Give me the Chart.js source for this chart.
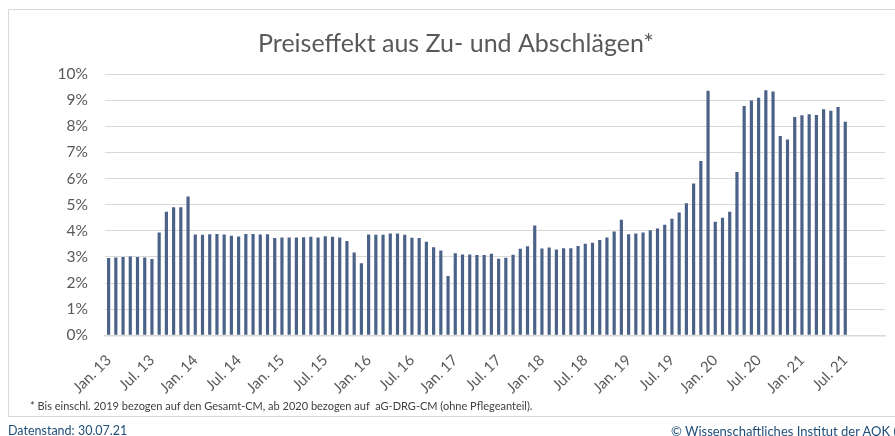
<!DOCTYPE html>
<html lang="de">
<head>
    <meta charset="UTF-8">
    <title>Preiseffekt aus Zu- und Abschlägen</title>
    <script src="https://cdn.jsdelivr.net/npm/chart.js"></script>
    <style>
        html, body {
            margin: 0;
            padding: 0;
            width: 895px;
            height: 436px;
            overflow: hidden;
            background: #ffffff;
            font-family: Lato, "Open Sans", sans-serif;
        }
        #frame {
            position: absolute;
            left: 8px;
            top: 9px;
            width: 900px;
            height: 406px;
            border: 1px solid #D9D9D9;
        }
        #chart {
            position: absolute;
            left: 0;
            top: 0;
        }
        .note {
            position: absolute;
            white-space: nowrap;
        }
        #footnote {
            left: 30px;
            top: 399px;
            font-size: 11px;
            color: #404040;
        }
        #stand {
            left: 8px;
            top: 423px;
            font-size: 12.5px;
            color: #1F4E79;
        }
        #copy {
            left: 671px;
            top: 423px;
            font-size: 13px;
            color: #1F4E79;
        }
    </style>
</head>
<body>
    <div id="frame"></div>
    <canvas id="chart" width="895" height="436"></canvas>
    <div class="note" id="footnote">* Bis einschl. 2019 bezogen auf den Gesamt-CM, ab 2020 bezogen auf &nbsp;aG-DRG-CM (ohne Pflegeanteil).</div>
    <div class="note" id="stand">Datenstand: 30.07.21</div>
    <div class="note" id="copy">© Wissenschaftliches Institut der AOK (WIdO)</div>

    <script>
        // Monate Jan. 13 bis Dez. 21 (Achse), Werte bis Jul. 21
        const years = ['13', '14', '15', '16', '17', '18', '19', '20', '21'];
        const monthNames = ['Jan.', 'Feb.', 'Mrz.', 'Apr.', 'Mai', 'Jun.', 'Jul.', 'Aug.', 'Sep.', 'Okt.', 'Nov.', 'Dez.'];
        const shownTicks = ['Jan. 13', 'Jul. 13', 'Jan. 14', 'Jul. 14', 'Jan. 15', 'Jul. 15', 'Jan. 16', 'Jul. 16',
            'Jan. 17', 'Jul. 17', 'Jan. 18', 'Jul. 18', 'Jan. 19', 'Jul. 19', 'Jan. 20', 'Jul. 20', 'Jan. 21', 'Jul. 21'];

        // Preiseffekt in %
        const values2013 = [2.96, 2.98, 3.00, 3.02, 3.00, 2.98, 2.92, 3.93, 4.73, 4.90, 4.90, 5.31];
        const values2014 = [3.86, 3.85, 3.87, 3.88, 3.86, 3.81, 3.78, 3.88, 3.88, 3.86, 3.87, 3.72];
        const values2015 = [3.74, 3.74, 3.74, 3.75, 3.77, 3.74, 3.79, 3.77, 3.74, 3.61, 3.17, 2.76];
        const values2016 = [3.86, 3.85, 3.85, 3.90, 3.90, 3.85, 3.73, 3.72, 3.58, 3.37, 3.25, 2.27];
        const values2017 = [3.14, 3.09, 3.09, 3.07, 3.07, 3.12, 2.93, 2.97, 3.08, 3.31, 3.41, 4.20];
        const values2018 = [3.32, 3.36, 3.28, 3.33, 3.33, 3.42, 3.50, 3.54, 3.65, 3.74, 3.97, 4.42];
        const values2019 = [3.87, 3.90, 3.93, 4.02, 4.09, 4.23, 4.46, 4.70, 5.05, 5.81, 6.67, 9.36];
        const values2020 = [4.35, 4.50, 4.73, 6.25, 8.78, 8.99, 9.09, 9.38, 9.33, 7.63, 7.49, 8.35];
        const values2021 = [8.42, 8.46, 8.43, 8.65, 8.59, 8.74, 8.17];

        const yTicks = [0, 1, 2, 3, 4, 5, 6, 7, 8, 9, 10];

        const categories = [];
        years.forEach(y => monthNames.forEach(m => categories.push(m + ' ' + y)));

        const values = [].concat(values2013, values2014, values2015, values2016, values2017,
            values2018, values2019, values2020, values2021);

        const textColor = '#595959';
        const gridColor = '#D9D9D9';

        const ctx = document.getElementById('chart').getContext('2d');
        new Chart(ctx, {
            type: 'bar',
            data: {
                labels: categories,
                datasets: [{
                    label: 'Preiseffekt',
                    data: values,
                    backgroundColor: '#4B6288',
                    barPercentage: 0.44,
                    categoryPercentage: 1.0
                }]
            },
            options: {
                responsive: false,
                animation: false,
                layout: {
                    padding: { left: 27, right: 10, top: 0, bottom: 0 }
                },
                plugins: {
                    legend: { display: false },
                    tooltip: { enabled: false },
                    title: {
                        display: true,
                        text: 'Preiseffekt aus Zu- und Abschlägen*',
                        color: textColor,
                        font: { family: 'Lato', size: 25, weight: 'normal' },
                        padding: { top: 29, bottom: 15 }
                    }
                },
                scales: {
                    x: {
                        grid: { display: false },
                        border: { display: true, color: gridColor, width: 1.5 },
                        ticks: {
                            autoSkip: false,
                            maxRotation: 45,
                            minRotation: 45,
                            padding: 8,
                            color: textColor,
                            font: { family: 'Lato', size: 15 },
                            callback: function (value) {
                                const lbl = categories[value];
                                return shownTicks.includes(lbl) ? lbl : '';
                            }
                        },
                        afterFit: function (scale) {
                            scale.height = 100.7;
                            // rotated labels must not shrink the plot area
                            scale.paddingLeft = 0;
                            scale.paddingRight = 0;
                        }
                    },
                    y: {
                        min: yTicks[0],
                        max: yTicks[yTicks.length - 1],
                        border: { display: false },
                        grid: { color: gridColor, lineWidth: 1, drawTicks: false },
                        afterBuildTicks: function (scale) {
                            scale.ticks = yTicks.map(v => ({ value: v }));
                        },
                        ticks: {
                            padding: 17,
                            color: textColor,
                            font: { family: 'Lato', size: 15.5 },
                            callback: v => v + '%'
                        },
                        afterFit: function (scale) {
                            scale.width = 78;
                        }
                    }
                }
            }
        });
    </script>
</body>
</html>
